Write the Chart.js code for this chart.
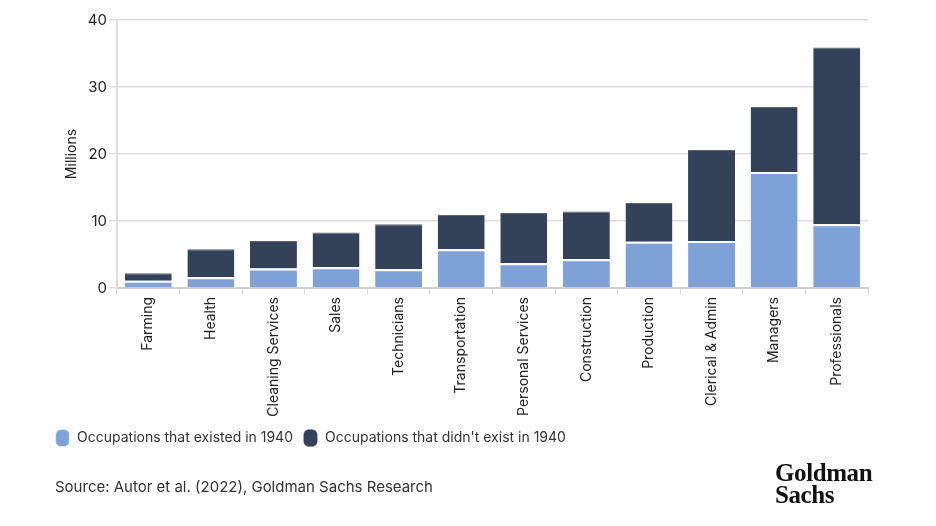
<!DOCTYPE html>
<html>
<head>
<meta charset="utf-8">
<script src="https://cdn.jsdelivr.net/npm/chart.js@4"></script>
<style>
  html, body { margin: 0; padding: 0; background: #fff; }
  #wrap { position: relative; width: 936px; height: 526px; }
  #source { position: absolute; left: 55px; top: 477px; font: 15px Inter, sans-serif; color: #333; }
  #logo { position: absolute; left: 775px; top: 462px; font: bold 25px "Liberation Serif", serif; line-height: 22px; color: #111; letter-spacing: -0.4px; }
</style>
</head>
<body>
<div id="wrap">
  <canvas id="c" width="936" height="526"></canvas>
  <div id="source">Source: Autor et al. (2022), Goldman Sachs Research</div>
  <div id="logo">Goldman<br>Sachs</div>
</div>
<script>
const categories = ["Farming", "Health", "Cleaning Services", "Sales", "Technicians", "Transportation", "Personal Services", "Construction", "Production", "Clerical & Admin", "Managers", "Professionals"];
const existed1940 = [1.1, 1.6, 2.9, 3.1, 2.8, 5.8, 3.7, 4.3, 6.9, 7.0, 17.3, 9.5];
const notExisted1940 = [1.1, 4.2, 4.1, 5.2, 6.7, 5.1, 7.5, 7.1, 5.8, 13.6, 9.7, 26.4];
const seriesNames = ["Occupations that existed in 1940", "Occupations that didn't exist in 1940"];
const yTicks = [0, 10, 20, 30, 40];

const FONT = "Inter, sans-serif";
new Chart(document.getElementById('c'), {
  type: 'bar',
  data: {
    labels: categories,
    datasets: [
      { label: seriesNames[0], data: existed1940, backgroundColor: '#7ea1d8',
        borderColor: '#ffffff', borderWidth: {top: 2, left: 0, right: 0, bottom: 0}, borderSkipped: false },
      { label: seriesNames[1], data: notExisted1940, backgroundColor: '#334259',
        borderColor: '#5a6372', borderWidth: {top: 1, left: 0, right: 0, bottom: 0}, borderSkipped: false }
    ]
  },
  options: {
    responsive: false,
    animation: false,
    devicePixelRatio: 1,
    layout: { padding: { left: 45, right: 68, top: 20, bottom: 71 } },
    datasets: { bar: { categoryPercentage: 1.0, barPercentage: 0.75 } },
    plugins: {
      tooltip: { enabled: false },
      legend: {
        position: 'bottom', align: 'start',
        labels: {
          usePointStyle: true, pointStyle: 'rectRounded', boxHeight: 14, pointStyleWidth: 15,
          padding: 10, color: '#333', font: { family: FONT, size: 14 }
        }
      }
    },
    scales: {
      x: {
        stacked: true,
        afterFit: (s) => { s.height = 133; },
        grid: { display: true, drawOnChartArea: false, drawTicks: true, tickLength: 6, color: '#d9d9d9', lineWidth: 1 },
        border: { display: true, color: '#d0d0d0', width: 2 },
        ticks: { minRotation: 90, maxRotation: 90, color: '#222', font: { family: FONT, size: 14 }, padding: 3, autoSkip: false }
      },
      y: {
        stacked: true,
        min: 0, max: 40,
        afterFit: (s) => { s.width = 72; },
        afterBuildTicks: (s) => { s.ticks = yTicks.map(v => ({ value: v })); },
        grid: { color: '#dedede', lineWidth: 1.5, tickLength: 8 },
        border: { display: true, color: '#dedede', width: 2 },
        ticks: { color: '#222', font: { family: FONT, size: 15 }, padding: 2 },
        title: { display: true, text: 'Millions', color: '#222', font: { family: FONT, size: 14 }, padding: { top: 18, bottom: 0 } }
      }
    }
  }
});
</script>
</body>
</html>
